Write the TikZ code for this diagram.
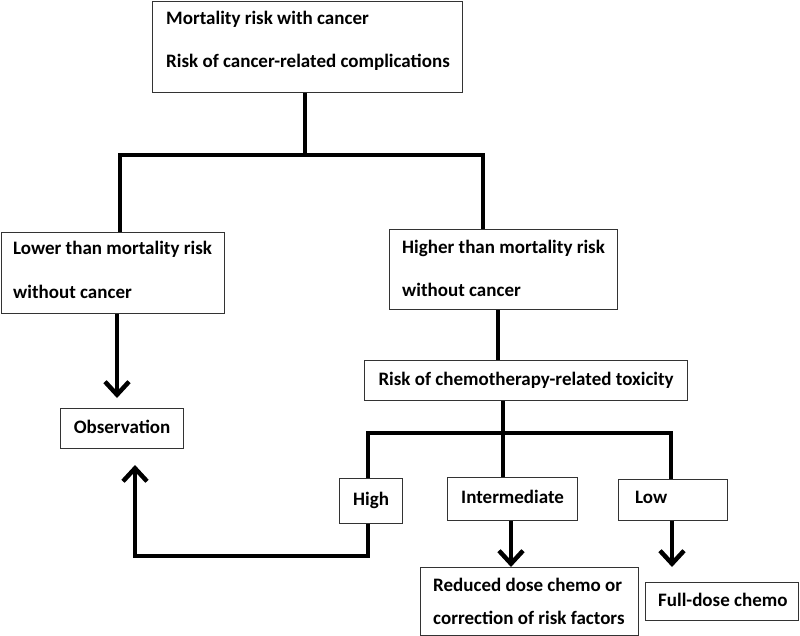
\documentclass[tikz,border=0pt]{standalone}
\usepackage{fontspec}
\setmainfont{Carlito}
\usetikzlibrary{arrows.meta}
\tikzset{
  box/.style={draw=black!80, line width=1.2pt, inner sep=0pt, anchor=north west},
  txt/.style={inner sep=0pt, text height=13pt, text depth=4pt, font=\bfseries\fontsize{19}{19}\selectfont},
  conn/.style={line width=4.5pt},
  arr/.style={line width=4.5pt, -{Straight Barb[length=13pt,width=24pt]}}
}
\begin{document}
\begin{tikzpicture}[x=1pt,y=-1pt]
\useasboundingbox (0,0) rectangle (800,636);
% boxes
\node[box, minimum width=310pt, minimum height=91pt] (top) at (152,1) {};
\node[box, minimum width=223pt, minimum height=81pt] (lo) at (1,232) {};
\node[box, minimum width=228pt, minimum height=80pt] (hi) at (389,229) {};
\node[box, minimum width=323pt, minimum height=40pt] (tox) at (364,360) {};
\node[box, minimum width=123pt, minimum height=40pt] (obs) at (60,408) {};
\node[box, minimum width=63pt, minimum height=45pt] (high) at (339,478) {};
\node[box, minimum width=130pt, minimum height=43pt] (inter) at (447,477) {};
\node[box, minimum width=109pt, minimum height=41pt] (low) at (618,479) {};
\node[box, minimum width=218pt, minimum height=68pt] (red) at (420,567) {};
\node[box, minimum width=153pt, minimum height=38pt] (full) at (645,582) {};
% texts
\node[txt, anchor=west] (t1) at (166,20) {Mortality risk with cancer};
\node[txt, anchor=west] (t2) at (166,63) {Risk of cancer-related complications};
\node[txt, anchor=west] (t3) at (13,250) {Lower than mortality risk};
\node[txt, anchor=west] (t4) at (13,294) {without cancer};
\node[txt, anchor=west] (t5) at (402,249) {Higher than mortality risk};
\node[txt, anchor=west] (t6) at (402,292) {without cancer};
\node[txt] (t7) at (tox.center) {Risk of chemotherapy-related toxicity};
\node[txt] (t8) at (obs.center) {Observation};
\node[txt] (t9) at (high.center) {High};
\node[txt] (t10) at (inter.center) {Intermediate};
\node[txt, anchor=west] (t11) at (635,499) {Low};
\node[txt, anchor=west] (t12) at (433,587) {Reduced dose chemo or};
\node[txt, anchor=west] (t13) at (433,620) {correction of risk factors};
\node[txt, anchor=west] (t14) at (658,602) {Full-dose chemo};
% junction coordinates
\coordinate (j1) at (305,155);
\coordinate (jl) at (120,155);
\coordinate (jr) at (483,155);
\coordinate (hs) at (498,310);
\coordinate (j2) at (503,433);
\coordinate (j2l) at (368,433);
\coordinate (j2r) at (671,433);
\coordinate (ra) at (117,398);
\coordinate (hb) at (368,556);
\coordinate (hl) at (135,556);
\coordinate (ot) at (135,465);
\coordinate (ia) at (511,567);
\coordinate (la) at (672,567);
% connectors
\draw[conn] (j1 |- top.south) -- (j1);
\draw[conn] (jl |- lo.north) -- (jl) -- (jr) -- (jr |- hi.north);
\draw[conn] (hs |- hi.south) -- (hs |- tox.north);
\draw[conn] (j2 |- tox.south) -- (j2);
\draw[conn] (j2l |- high.north) -- (j2l) -- (j2r) -- (j2r |- low.north);
\draw[conn] (j2) -- (j2 |- inter.north);
\draw[arr] (ra |- lo.south) -- (ra);
\draw[arr] (hb |- high.south) -- (hb) -- (hl) -- (ot);
\draw[arr] (ia |- inter.south) -- (ia);
\draw[arr] (la |- low.south) -- (la);
\end{tikzpicture}
\end{document}
